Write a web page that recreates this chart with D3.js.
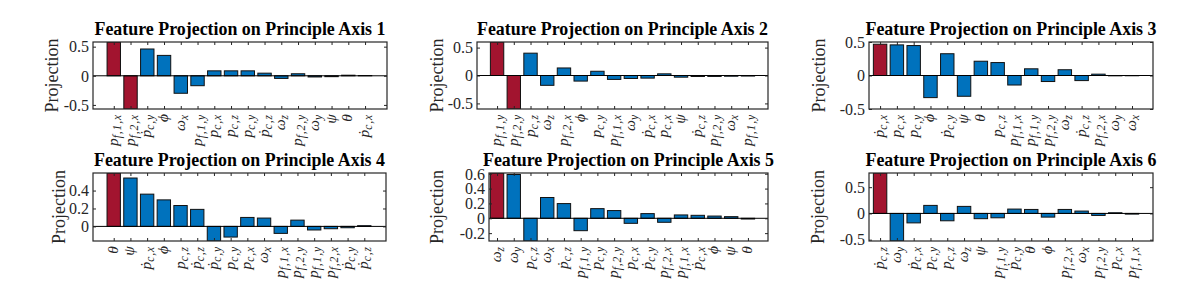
<!DOCTYPE html>
<html>
<head>
<meta charset="utf-8">
<script src="https://cdn.jsdelivr.net/npm/d3@7"></script>
<style>
body { margin: 0; background: #fff; }
svg text { font-family: 'Liberation Serif', 'DejaVu Serif', serif; }
</style>
</head>
<body>
<svg id="fig" width="1196" height="292"></svg>
<script>
// feature labels: base|subscript
const labels1 = ['p|f,1,x', 'p|f,2,x', 'ṗ|c,y', 'ϕ', 'ω|x', 'p|f,1,y', 'p|c,x', 'p|c,z',
    'p|c,y', 'ṗ|c,z', 'ω|z', 'p|f,2,y', 'ω|y', 'ψ', 'θ', 'ṗ|c,x'];
const values1 = [0.58, -0.57, 0.46, 0.35, -0.30, -0.17, 0.085, 0.085,
    0.085, 0.045, -0.045, 0.035, -0.02, -0.015, 0.01, 0.005];

const labels2 = ['p|f,1,y', 'p|f,2,y', 'p|c,z', 'ω|z', 'p|f,2,x', 'ϕ', 'p|c,y', 'p|f,1,x',
    'ω|y', 'ṗ|c,x', 'p|c,x', 'ψ', 'ṗ|c,z', 'p|f,2,y', 'ω|x', 'p|f,1,y'];
const values2 = [0.6, -0.6, 0.40, -0.176, 0.135, -0.10, 0.076, -0.07,
    -0.053, -0.047, 0.03, -0.03, -0.018, -0.017, -0.013, -0.01];

const labels3 = ['ṗ|c,x', 'p|c,x', 'p|c,y', 'ϕ', 'ṗ|c,y', 'ψ', 'θ', 'p|c,z',
    'p|f,1,x', 'p|f,1,y', 'p|f,2,y', 'ω|z', 'ṗ|c,z', 'p|f,2,x', 'ω|y', 'ω|x'];
const values3 = [0.467, 0.457, 0.447, -0.33, 0.325, -0.31, 0.213, 0.193,
    -0.142, 0.10, -0.09, 0.086, -0.076, 0.02, -0.005, -0.004];

const labels4 = ['θ', 'ψ', 'ṗ|c,x', 'ϕ', 'p|c,z', 'ṗ|c,z', 'ṗ|c,y', 'p|c,y',
    'p|c,x', 'ω|x', 'p|f,1,x', 'p|f,2,y', 'p|f,1,y', 'p|f,2,x', 'ṗ|c,y', 'ṗ|c,z'];
const values4 = [0.596, 0.54, 0.36, 0.296, 0.233, 0.19, -0.163, -0.119,
    0.10, 0.093, -0.078, 0.07, -0.04, -0.026, -0.015, 0.008];

const labels5 = ['ω|z', 'ω|y', 'p|c,z', 'ω|x', 'ṗ|c,z', 'p|f,1,y', 'p|c,y', 'p|f,2,y',
    'p|c,x', 'ṗ|c,y', 'p|f,2,x', 'p|f,1,x', 'ṗ|c,x', 'ϕ', 'ψ', 'θ'];
const values5 = [0.61, 0.59, -0.306, 0.28, 0.198, -0.167, 0.13, 0.104,
    -0.068, 0.063, -0.054, 0.045, 0.04, 0.03, 0.022, -0.01];

const labels6 = ['ṗ|c,z', 'ω|y', 'ṗ|c,x', 'p|c,y', 'p|c,z', 'ω|z', 'ψ', 'p|f,1,y',
    'ṗ|c,y', 'θ', 'ϕ', 'p|f,2,x', 'ω|x', 'p|f,2,y', 'p|c,x', 'p|f,1,x'];
const values6 = [0.77, -0.525, -0.18, 0.153, -0.14, 0.134, -0.10, -0.083,
    0.083, 0.076, -0.07, 0.076, 0.045, -0.038, 0.013, -0.013];

const highlighted = [2, 2, 1, 1, 1, 1];
const yLims = [[-0.57, 0.58], [-0.6, 0.6], [-0.5, 0.5], [-0.163, 0.596], [-0.306, 0.61], [-0.525, 0.77]];
const yTicks = [[-0.5, 0, 0.5], [-0.5, 0, 0.5], [-0.5, 0, 0.5], [0, 0.2, 0.4], [-0.2, 0, 0.2, 0.4, 0.6], [-0.5, 0, 0.5]];

const allLabels = [labels1, labels2, labels3, labels4, labels5, labels6];
const allValues = [values1, values2, values3, values4, values5, values6];

// axes boxes in pixels, x limits in bar units
const panels = [
    { x0: 93, x1: 387, y0: 42, y1: 109, xlim: [-0.24, 17.31], ylab: 52 },
    { x0: 477, x1: 768, y0: 42, y1: 109, xlim: [-0.2, 17.2], ylab: 437 },
    { x0: 869, x1: 1153, y0: 42, y1: 109, xlim: [0.34, 17.25], ylab: 819 },
    { x0: 93, x1: 386, y0: 173, y1: 241, xlim: [-0.24, 17.3], ylab: 59 },
    { x0: 489, x1: 768, y0: 173, y1: 241, xlim: [0.52, 17.2], ylab: 437 },
    { x0: 869, x1: 1153, y0: 173, y1: 241, xlim: [0.34, 17.25], ylab: 818 }
];

const RED = '#A2142F';
const BLUE = '#0072BD';
const AXC = '#262626';
const SERIF = "'Liberation Serif', 'DejaVu Serif', serif";

const svg = d3.select('#fig');

panels.forEach((p, i) => {
    const vals = allValues[i];
    const labs = allLabels[i];
    const idx = d3.range(1, vals.length + 1);
    const x = d3.scaleLinear().domain(p.xlim).range([p.x0, p.x1]);
    const y = d3.scaleLinear().domain(yLims[i]).range([p.y1, p.y0]);
    const bw = x(0.8) - x(0);

    const g = svg.append('g');

    svg.append('clipPath')
        .attr('id', `clip${i}`)
        .append('rect')
        .attr('x', p.x0).attr('y', p.y0)
        .attr('width', p.x1 - p.x0).attr('height', p.y1 - p.y0);

    const plot = g.append('g').attr('clip-path', `url(#clip${i})`);

    plot.selectAll('rect.bar')
        .data(vals)
        .enter()
        .append('rect')
        .attr('class', 'bar')
        .attr('x', (d, j) => x(j + 1) - bw / 2)
        .attr('y', d => y(Math.max(d, 0)))
        .attr('width', bw)
        .attr('height', d => Math.abs(y(d) - y(0)))
        .attr('fill', (d, j) => (j < highlighted[i] ? RED : BLUE))
        .attr('stroke', '#111')
        .attr('stroke-width', 1);

    // baseline
    plot.append('line')
        .attr('x1', p.x0).attr('x2', p.x1)
        .attr('y1', y(0)).attr('y2', y(0))
        .attr('stroke', '#000')
        .attr('stroke-width', 1);

    // y axes (ticks inward)
    const yl = g.append('g')
        .attr('transform', `translate(${p.x0},0)`)
        .call(d3.axisLeft(y).tickValues(yTicks[i]).tickSize(-3).tickPadding(4)
            .tickFormat(d => (d === 0 ? '0' : d3.format('.1f')(d).replace('−', '-'))));
    yl.select('.domain').remove();
    yl.attr('font-family', null).attr('font-size', null);
    yl.selectAll('line').attr('stroke', AXC);
    yl.selectAll('text')
        .style('font-family', SERIF)
        .style('font-size', '16px')
        .attr('dy', '0.33em')
        .attr('fill', AXC);

    const yr = g.append('g')
        .attr('transform', `translate(${p.x1},0)`)
        .call(d3.axisRight(y).tickValues(yTicks[i]).tickSize(-3).tickFormat(''));
    yr.select('.domain').remove();
    yr.selectAll('line').attr('stroke', AXC);

    // x ticks top and bottom
    const xb = g.append('g')
        .attr('transform', `translate(0,${p.y1})`)
        .call(d3.axisBottom(x).tickValues(idx).tickSize(-3).tickFormat(''));
    xb.select('.domain').remove();
    xb.selectAll('line').attr('stroke', AXC);

    const xt = g.append('g')
        .attr('transform', `translate(0,${p.y0})`)
        .call(d3.axisTop(x).tickValues(idx).tickSize(-3).tickFormat(''));
    xt.select('.domain').remove();
    xt.selectAll('line').attr('stroke', AXC);

    // box
    g.append('rect')
        .attr('x', p.x0).attr('y', p.y0)
        .attr('width', p.x1 - p.x0).attr('height', p.y1 - p.y0)
        .attr('fill', 'none')
        .attr('stroke', AXC)
        .attr('stroke-width', 1.2);

    // rotated math tick labels
    labs.forEach((lab, j) => {
        const [base, sub] = lab.split('|');
        const t = g.append('text')
            .attr('transform', `translate(${x(j + 1)},${p.y1 + 5}) rotate(-90)`)
            .attr('text-anchor', 'end')
            .attr('y', 4)
            .style('font-family', SERIF)
            .style('font-style', 'italic')
            .attr('fill', AXC);
        t.append('tspan')
            .style('font-size', '15.5px')
            .text(base);
        if (sub) {
            t.append('tspan')
                .style('font-size', '11.5px')
                .style('letter-spacing', '0.9px')
                .attr('dy', 3)
                .text(sub);
        }
    });

    // y label
    g.append('text')
        .attr('transform', `translate(${p.ylab},${(p.y0 + p.y1) / 2}) rotate(-90)`)
        .attr('text-anchor', 'middle')
        .attr('dy', '0.35em')
        .style('font-family', SERIF)
        .style('font-size', '18px')
        .attr('fill', AXC)
        .text('Projection');

    // title
    g.append('text')
        .attr('x', (p.x0 + p.x1) / 2)
        .attr('y', p.y0 - 7)
        .attr('text-anchor', 'middle')
        .style('font-family', SERIF)
        .style('font-weight', 'bold')
        .style('font-size', '17.9px')
        .attr('fill', '#000')
        .text(`Feature Projection on Principle Axis ${i + 1}`);
});
</script>
</body>
</html>
